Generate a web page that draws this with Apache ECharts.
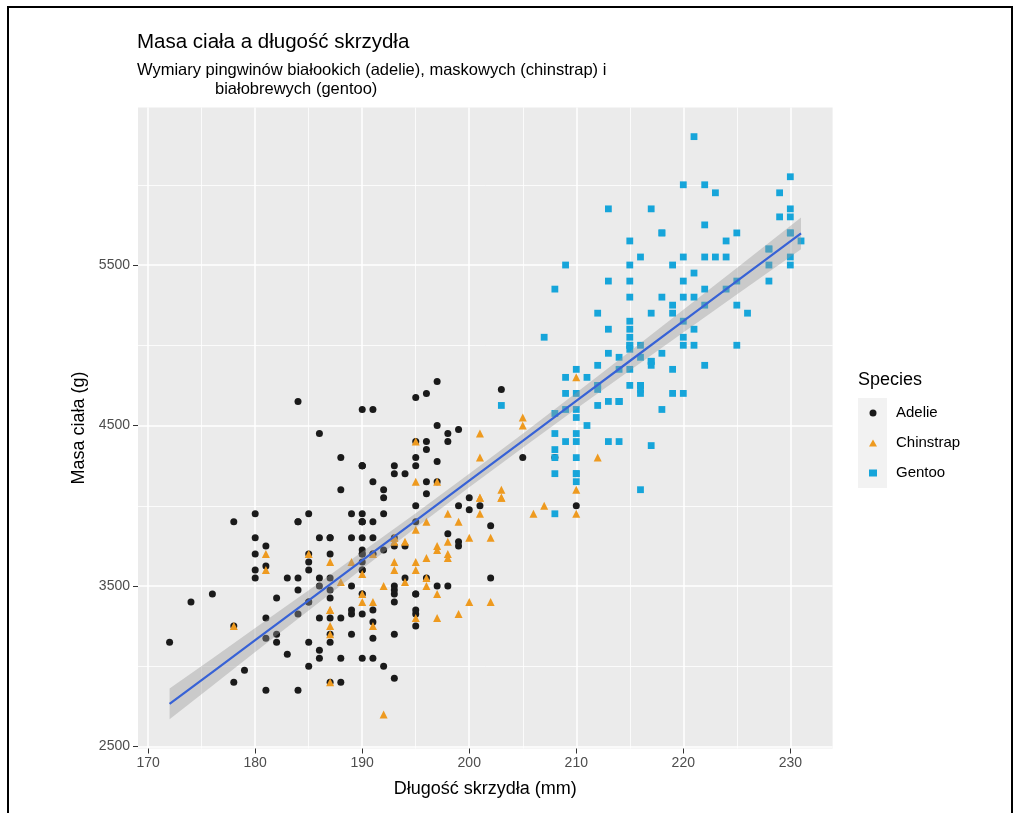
<!DOCTYPE html>
<html>
<head>
<meta charset="utf-8">
<title>Masa ciała a długość skrzydła</title>
<script src="https://cdn.jsdelivr.net/npm/echarts@6.0.0/dist/echarts.min.js"></script>
<style>
  html, body { margin: 0; padding: 0; background: #fff; }
  #chart { width: 1019px; height: 813px; }
</style>
</head>
<body>
<div id="chart"></div>
<script>
// palmerpenguins: flipper length (mm) vs body mass (g)
const adelieFlipper = [181,186,195,193,190,181,195,193,190,186,180,182,191,198,185,195,197,184,194,174,
  180,189,185,180,187,183,187,172,180,178,178,188,184,195,196,190,180,181,184,182,
  195,186,196,185,190,182,179,190,191,186,188,190,200,187,191,186,193,181,194,185,
  195,185,192,184,192,195,188,190,198,190,190,196,197,190,195,191,184,187,195,189,
  196,187,193,191,194,190,189,189,190,202,205,185,186,187,208,190,196,178,192,192,
  203,183,190,193,184,199,190,181,197,198,191,193,197,191,196,188,199,189,189,187,
  198,176,202,186,199,191,195,191,210,190,197,193,199,187,190,191,200,185,193,193,
  187,188,190,192,185,190,184,195,193,187,201];
const adelieMass = [3750,3800,3250,3450,3650,3625,4675,3475,4250,3300,3700,3200,3800,4400,3700,3450,4500,3325,4200,3400,
  3600,3800,3950,3800,3800,3550,3200,3150,3950,3250,3900,3300,3900,3325,4150,3950,3550,3300,4650,3150,
  3900,3100,4400,3000,4600,3425,2975,3450,4150,3500,4300,3450,4050,2900,3700,3550,3800,2850,3750,3150,
  4400,3600,4050,2850,3950,3350,4100,3050,4450,3600,3900,3550,4150,3700,4250,3700,3900,3550,4000,3200,
  4700,3800,4200,3350,3550,3800,3500,3950,3600,3550,4300,3400,4450,3300,4300,3700,4350,2900,4100,3725,
  4725,3075,4250,2925,3550,3750,3900,3175,4775,3825,4600,3200,4275,3900,4075,2900,3775,3350,3325,3150,
  3500,3450,3875,3050,4000,3275,4300,3050,4000,3325,3500,3500,4475,3425,3900,3175,3975,3400,4250,3400,
  3475,3050,3725,3000,3650,4250,3475,3450,3750,3700,4000];

const chinstrapFlipper = [192,196,193,188,197,198,178,197,195,198,193,194,185,201,190,201,197,181,190,195,
  181,191,187,193,195,197,200,200,191,205,187,201,187,203,195,199,195,210,192,205,
  210,187,196,196,196,201,190,212,187,198,199,201,193,203,187,197,191,203,202,194,
  206,189,195,207,202,193,210,198];
const chinstrapMass = [3500,3900,3650,3525,3725,3950,3250,3750,4150,3700,3800,3775,3700,4050,3575,4050,3300,3700,3450,4400,
  3600,3400,2900,3800,3300,4150,3400,3800,3700,4550,3200,4300,3350,4100,3600,3900,3850,4800,2700,4500,
  3950,3650,3550,3500,3675,4450,3400,4300,3250,3675,3325,3950,3600,4050,3350,3450,3250,4050,3800,3525,
  3950,3650,3650,4000,3400,3775,4100,3775];

const gentooFlipper = [211,230,210,218,215,210,211,219,209,215,214,216,214,213,210,217,210,221,209,222,
  218,215,213,215,215,215,216,215,210,220,222,209,207,230,220,220,213,219,208,208,
  208,225,210,216,222,217,210,225,213,215,210,220,210,225,217,220,208,220,208,224,
  208,221,214,231,219,230,214,229,220,223,216,221,221,217,216,230,209,220,215,223,
  212,221,212,224,212,228,218,218,212,230,218,228,212,224,214,226,216,222,203,225,
  219,228,215,228,216,215,210,219,208,209,216,229,213,230,217,230,217,222,214,215,
  222,212,213];
const gentooMass = [4500,5700,4450,5700,5400,4550,4800,5200,4400,5150,4650,5550,4650,5850,4200,5850,4150,6300,4800,5350,
  5700,5000,4400,5050,5000,5100,4100,5650,4600,5550,5250,4700,5050,6050,5150,5400,4950,5250,4350,5350,
  3950,5700,4300,4750,5550,4900,4200,5400,5100,5300,4850,5300,4400,5000,4900,5050,4300,5000,4450,5550,
  4200,5300,4400,5650,4700,5700,4650,5800,4700,5550,4750,5000,5100,5200,4700,5800,4600,6000,4750,5950,
  4625,5450,4725,5350,4750,5600,4600,5300,4875,5550,4950,5400,4750,5650,4850,5200,4925,4875,4625,5250,
  4850,5600,4975,5500,4725,5500,4700,5500,4575,5500,5000,5950,4650,5500,4375,5850,4875,6000,4925,4850,
  5750,5200,5400];

// linear smooth (fit and 95% band)
const smoothFlipper = [172,176,180,185,190,195,200,205,210,215,220,225,231];
const smoothFit  = [2765,2964,3163,3411,3660,3908,4157,4405,4654,4902,5150,5399,5697];
const smoothLow  = [2669,2879,3088,3348,3607,3863,4115,4361,4604,4843,5079,5316,5598];
const smoothHigh = [2861,3049,3238,3474,3713,3953,4199,4449,4704,4961,5221,5482,5796];

// axis breaks
const xTicks = [170,180,190,200,210,220,230];
const xMinor = [175,185,195,205,215,225];
const yTicks = [2500,3500,4500,5500];
const yMinor = [3000,4000,5000,6000];

const speciesNames = ['Adelie','Chinstrap','Gentoo'];
const speciesColors = ['#1a1a1a','#EE9A1F','#16A5DA'];

const FONT = 'Liberation Sans, Arial, sans-serif';

function pairs(xs, ys) {
  return xs.map(function (x, i) { return [x, ys[i]]; });
}

const chart = echarts.init(document.getElementById('chart'), null, { renderer: 'canvas' });

const gridLines = [];
yTicks.forEach(function (v) { gridLines.push({ yAxis: v, lineStyle: { width: 1.5 } }); });
yMinor.forEach(function (v) { gridLines.push({ yAxis: v, lineStyle: { width: 0.8 } }); });
xTicks.forEach(function (v) { gridLines.push({ xAxis: v, lineStyle: { width: 1.5 } }); });
xMinor.forEach(function (v) { gridLines.push({ xAxis: v, lineStyle: { width: 0.8 } }); });

const pointStyle = function (i) {
  return { color: speciesColors[i], opacity: 1, borderWidth: 0 };
};

chart.setOption({
  animation: false,
  backgroundColor: '#ffffff',
  textStyle: { fontFamily: FONT },
  title: [
    {
      text: 'Masa ciała a długość skrzydła',
      left: 137, top: 32, padding: 0,
      textStyle: { fontSize: 20.5, fontWeight: 'normal', color: '#000', fontFamily: FONT }
    },
    {
      text: 'Wymiary pingwinów białookich (adelie), maskowych (chinstrap) i',
      left: 137, top: 62, padding: 0,
      textStyle: { fontSize: 16.5, fontWeight: 'normal', color: '#000', fontFamily: FONT }
    },
    {
      text: 'białobrewych (gentoo)',
      left: 215, top: 81, padding: 0,
      textStyle: { fontSize: 16.5, fontWeight: 'normal', color: '#000', fontFamily: FONT }
    }
  ],
  grid: {
    left: 138, right: 186.4, top: 107.5, bottom: 64.5,
    show: true, backgroundColor: '#EBEBEB', borderWidth: 0
  },
  xAxis: {
    type: 'value',
    min: 169.05, max: 233.95,
    axisLine: { show: false },
    splitLine: { show: false },
    axisTick: { show: true, length: 5, customValues: xTicks, lineStyle: { color: '#333333', width: 1 } },
    axisLabel: {
      customValues: xTicks, color: '#4D4D4D', fontSize: 14, margin: 8, fontFamily: FONT,
      formatter: function (v) { return String(v); }
    },
    name: 'Długość skrzydła (mm)',
    nameLocation: 'middle',
    nameGap: 32,
    nameTextStyle: { fontSize: 18, color: '#000', fontFamily: FONT }
  },
  yAxis: {
    type: 'value',
    min: 2487.45, max: 6481.55,
    axisLine: { show: false },
    splitLine: { show: false },
    axisTick: { show: true, length: 5, customValues: yTicks, lineStyle: { color: '#333333', width: 1 } },
    axisLabel: {
      customValues: yTicks, color: '#4D4D4D', fontSize: 14, margin: 8, fontFamily: FONT,
      formatter: function (v) { return String(v); }
    },
    name: 'Masa ciała (g)',
    nameLocation: 'middle',
    nameGap: 41,
    nameTextStyle: { fontSize: 18, color: '#000', fontFamily: FONT }
  },
  legend: {
    orient: 'vertical',
    left: 869, top: 398,
    padding: 0,
    itemGap: 0,
    itemWidth: 8, itemHeight: 7,
    data: speciesNames,
    textStyle: { fontSize: 15, color: '#000', lineHeight: 30, padding: [0, 0, 0, 14], fontFamily: FONT }
  },
  graphic: [
    {
      type: 'rect', z: 0,
      shape: { x: 8, y: 7, width: 1004, height: 840 },
      style: { fill: 'none', stroke: '#000', lineWidth: 2 }
    },
    {
      type: 'rect', z: 1,
      shape: { x: 858, y: 398, width: 29, height: 90 },
      style: { fill: '#F2F2F2' }
    },
    {
      type: 'text', z: 1, left: 858, top: 371,
      style: { text: 'Species', fontSize: 18, fill: '#000', fontFamily: FONT }
    }
  ],
  series: [
    {
      name: 'grid',
      type: 'line',
      data: [],
      z: 0,
      silent: true,
      markLine: {
        z: 0,
        silent: true,
        symbol: 'none',
        label: { show: false },
        lineStyle: { color: '#ffffff', type: 'solid' },
        data: gridLines
      }
    },
    {
      name: speciesNames[0], type: 'scatter', symbol: 'circle', symbolSize: 7, z: 2,
      itemStyle: pointStyle(0),
      data: pairs(adelieFlipper, adelieMass)
    },
    {
      name: speciesNames[1], type: 'scatter', symbol: 'triangle', symbolSize: 8, z: 2,
      itemStyle: pointStyle(1),
      data: pairs(chinstrapFlipper, chinstrapMass)
    },
    {
      name: speciesNames[2], type: 'scatter', symbol: 'rect', symbolSize: 6.8, z: 2,
      itemStyle: pointStyle(2),
      data: pairs(gentooFlipper, gentooMass)
    },
    {
      name: 'band',
      type: 'custom',
      silent: true,
      clip: true,
      z: 3,
      data: smoothFlipper.map(function (f, i) { return [f, smoothLow[i], smoothHigh[i]]; }),
      encode: { x: 0, y: [1, 2] },
      renderItem: function (params, api) {
        if (params.dataIndex !== 0) return null;
        const pts = [];
        for (let i = 0; i < smoothFlipper.length; i++) {
          pts.push(api.coord([smoothFlipper[i], smoothHigh[i]]));
        }
        for (let i = smoothFlipper.length - 1; i >= 0; i--) {
          pts.push(api.coord([smoothFlipper[i], smoothLow[i]]));
        }
        return {
          type: 'polygon',
          shape: { points: pts },
          style: { fill: 'rgba(153,153,153,0.4)' }
        };
      }
    },
    {
      name: 'fit',
      type: 'line',
      symbol: 'none',
      silent: true,
      z: 4,
      lineStyle: { color: '#3762D6', width: 2.2 },
      data: pairs(smoothFlipper, smoothFit)
    }
  ]
});
</script>
</body>
</html>
